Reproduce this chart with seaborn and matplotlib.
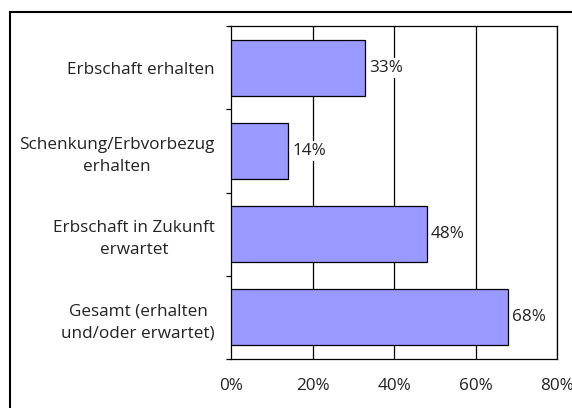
import matplotlib
matplotlib.use("Agg")
import matplotlib.pyplot as plt
import seaborn as sns
import pandas as pd
from matplotlib.patches import Rectangle
from matplotlib.ticker import FixedLocator

categories = ["Erbschaft erhalten", "Schenkung/Erbvorbezug\nerhalten",
              "Erbschaft in Zukunft\nerwartet", "Gesamt (erhalten\nund/oder erwartet)"]
values = [33, 14, 48, 68]
xticks = [0, 20, 40, 60, 80]
xticklabels = ["0%", "20%", "40%", "60%", "80%"]

sns.set_theme(style="white")
plt.rcParams['font.family'] = ['Open Sans', 'DejaVu Sans']

FS = 12.3
W, H = 572, 408
fig = plt.figure(figsize=(W / 100, H / 100), dpi=100)
ax = fig.add_axes([231 / W, 1 - 359 / H, (557 - 231) / W, (359 - 26) / H])

df = pd.DataFrame({"cat": categories, "val": values})
sns.barplot(data=df, y="cat", x="val", orient="h", color="#9999FF", saturation=1,
            edgecolor="black", linewidth=0.9, width=0.67, ax=ax, zorder=3)

ax.set_xlim(0, 80)
ax.set_ylim(3.5, -0.5)
ax.set_xticks(xticks)
ax.set_xticklabels(xticklabels, fontsize=FS, color="#222222")
ax.set_xlabel("")
ax.set_ylabel("")
for x in xticks[1:]:
    ax.axvline(x, color="black", lw=0.9, zorder=1)

ax.set_yticks(range(len(categories)))
ax.set_yticklabels(categories, fontsize=FS, color="#222222", multialignment="center",
                   linespacing=1.5)
ax.tick_params(axis="y", which="major", length=0, pad=11.5)
ax.tick_params(axis="x", which="major", length=0, pad=14)
ax.yaxis.set_minor_locator(FixedLocator([-0.5, 0.5, 1.5, 2.5, 3.5]))
ax.tick_params(axis="y", which="minor", length=3.5, width=0.9, direction="out", left=True, color="black")

for s in ax.spines.values():
    s.set_visible(True)
    s.set_color("black")
    s.set_linewidth(0.9)

for i, v in enumerate(values):
    ax.text(v + 1.0, i, f"{v}%", va="center", ha="left", fontsize=FS, color="#222222",
            bbox=dict(facecolor="white", edgecolor="none", pad=1.5), zorder=4)

fig.add_artist(Rectangle((10 / W, -0.1), 2, 1 - 12 / H + 0.1, transform=fig.transFigure,
                         fill=False, edgecolor="black", lw=1.5))

fig.savefig("out.png", dpi=100)
